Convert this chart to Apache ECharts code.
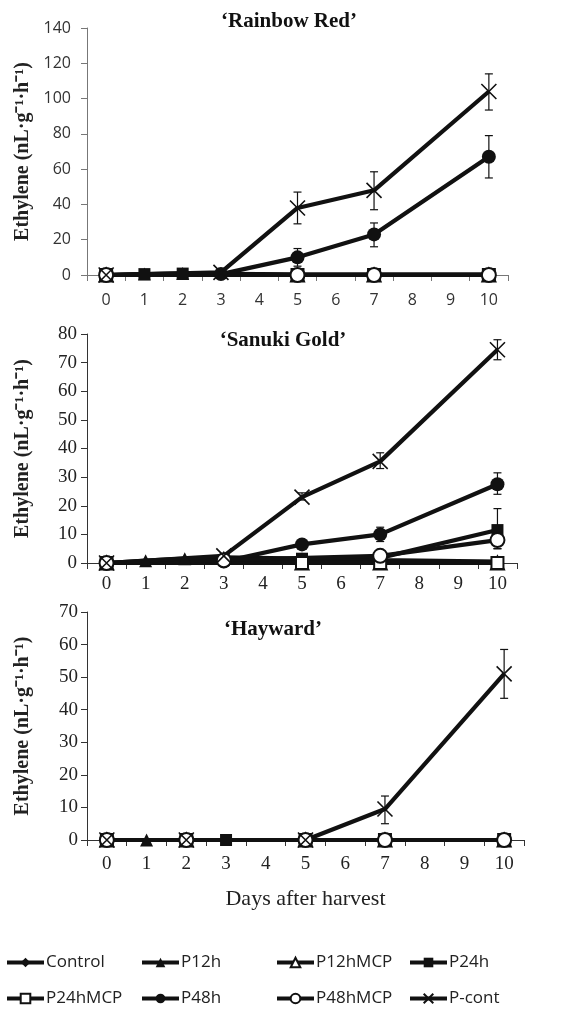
<!DOCTYPE html>
<html><head><meta charset="utf-8">
<script src="https://cdn.jsdelivr.net/npm/echarts@6/dist/echarts.min.js"></script>
<style>html,body{margin:0;padding:0;background:#fff}#c{width:568px;height:1009px}</style>
</head><body><div id="c"></div>
<script>
const days = ['0','1','2','3','4','5','6','7','8','9','10'];
const seriesNames = ['Control','P12h','P12hMCP','P24h','P24hMCP','P48h','P48hMCP','P-cont'];
const panelTitles = ['\u2018Rainbow Red\u2019','\u2018Sanuki Gold\u2019','\u2018Hayward\u2019'];
const yMax = [140, 80, 70];
const yStep = [20, 10, 10];

// 'Rainbow Red'
const control_rr  = [0,null,null,null,null,0,null,0,null,null,0];
const p12h_rr     = [0,0.5,0.8,null,null,0,null,0,null,null,0];
const p12hmcp_rr  = [0,null,null,null,null,0,null,0,null,null,0];
const p24h_rr     = [0,0.5,0.8,null,null,0.3,null,0.3,null,null,0.3];
const p24hmcp_rr  = [0,null,null,null,null,0,null,0,null,null,0];
const p48h_rr     = [0,null,null,0.5,null,10,null,23,null,null,67];
const p48hmcp_rr  = [0,null,null,null,null,0,null,0,null,null,0];
const pcont_rr    = [0,null,null,1.5,null,38,null,48,null,null,104];
const err_rr = [[5,29,47],[7,37,58.5],[10,93.5,114],[5,5,15],[7,16,29.5],[10,55,79]];

// 'Sanuki Gold'
const control_sg  = [0,null,null,0.5,null,0.5,null,0.5,null,null,0.3];
const p12h_sg     = [0,0.8,1.5,2,null,1.5,null,1,null,null,0.5];
const p12hmcp_sg  = [0,null,null,null,null,0,null,0,null,null,0];
const p24h_sg     = [0,null,null,1,null,1.5,null,1.8,null,null,11.5];
const p24hmcp_sg  = [0,null,null,null,null,0,null,0,null,null,0];
const p48h_sg     = [0,null,null,0.5,null,6.5,null,10,null,null,27.5];
const p48hmcp_sg  = [0,null,null,1,null,null,null,2.5,null,null,8];
const pcont_sg    = [0,null,null,2.5,null,23,null,35.5,null,null,74.5];
const err_sg = [[5,22,24.5],[7,33,38.5],[10,71,78],[7,7.5,12.5],[10,24,31.5],[10,5,19],[10,5,10]];

// 'Hayward'
const control_h   = [0,null,0,null,null,0,null,0,null,null,0];
const p12h_h      = [0,0,null,null,null,0,null,0,null,null,0];
const p12hmcp_h   = [0,null,0,null,null,0,null,0,null,null,0];
const p24h_h      = [0,null,null,0,null,0,null,0,null,null,0];
const p24hmcp_h   = [0,null,0,null,null,0,null,0,null,null,0];
const p48h_h      = [0,null,null,null,null,0,null,0,null,null,0];
const p48hmcp_h   = [0,null,0,null,null,0,null,0,null,null,0];
const pcont_h     = [0,null,0,null,null,0,null,9.5,null,null,51];
const err_h = [[7,5,13.5],[10,43.5,58.5]];

const panelData = [
  [control_rr,p12h_rr,p12hmcp_rr,p24h_rr,p24hmcp_rr,p48h_rr,p48hmcp_rr,pcont_rr],
  [control_sg,p12h_sg,p12hmcp_sg,p24h_sg,p24hmcp_sg,p48h_sg,p48hmcp_sg,pcont_sg],
  [control_h,p12h_h,p12hmcp_h,p24h_h,p24hmcp_h,p48h_h,p48hmcp_h,pcont_h]
];
const panelErr = [err_rr, err_sg, err_h];

const symbols = ['diamond','triangle','emptyTriangle','rect','emptyRect','circle','emptyCircle','path://M0,0L10,10M10,0L0,10'];
const symSizes = [13,13,13,12,12,14,14,15];

const SERIF = '"Liberation Serif","Times New Roman",serif';
const SANS = '"Open Sans","Liberation Sans",sans-serif';

const grids = [
  {left:87, right:60, top:28, height:247},
  {left:87, right:51, top:334, height:229},
  {left:87, right:44, top:612, height:228}
];
const labelFonts = [
  {fontFamily:SANS, fontSize:16, color:'#333'},
  {fontFamily:SERIF, fontSize:19, color:'#222'},
  {fontFamily:SERIF, fontSize:19, color:'#222'}
];
const axisColors = ['#777','#333','#333'];
const yMargins = [16,10,9];
const xMargins = [17,12,15];
const titlePos = [[289,11],[283,330],[273,619]];

const xAxes = [], yAxes = [], series = [], titles = [];
for (let p = 0; p < 3; p++) {
  xAxes.push({
    type:'category', gridIndex:p, data:days, boundaryGap:true,
    axisLine:{lineStyle:{color:axisColors[p], width:1}},
    axisTick:{show:true, length:6, lineStyle:{color:axisColors[p]}},
    axisLabel:Object.assign({margin:xMargins[p], interval:0}, labelFonts[p]),
    name: p === 2 ? 'Days after harvest' : '',
    nameLocation:'middle', nameGap:48,
    nameTextStyle:{fontFamily:SERIF, fontSize:22, color:'#222'}
  });
  yAxes.push({
    type:'value', gridIndex:p, min:0, max:yMax[p], interval:yStep[p],
    axisLine:{show:true, lineStyle:{color:axisColors[p], width:1}},
    axisTick:{show:true, length:6, lineStyle:{color:axisColors[p]}},
    splitLine:{show:false},
    axisLabel:Object.assign({margin:yMargins[p]}, labelFonts[p]),
    name:'Ethylene (nL\u00b7g\u207b\u00b9\u00b7h\u207b\u00b9)',
    nameLocation:'middle', nameGap:54, nameRotate:90,
    nameTextStyle:{fontFamily:SERIF, fontSize:20, fontWeight:'bold', color:'#222'}
  });
  titles.push({
    text:panelTitles[p], left:titlePos[p][0], top:titlePos[p][1], textAlign:'center',
    padding:0,
    textStyle:{fontFamily:SERIF, fontSize:21, fontWeight:'bold', color:'#111'}
  });
  for (let s = 0; s < 8; s++) {
    series.push({
      type:'line', name:seriesNames[s], xAxisIndex:p, yAxisIndex:p,
      data:panelData[p][s], connectNulls:true,
      symbol:symbols[s], symbolSize:symSizes[s], showAllSymbol:true,
      lineStyle:{color:'#111', width:4.2},
      itemStyle:{color:'#111', borderColor:'#111', borderWidth: (s===2||s===4||s===6||s===7)?1.6:0},
      emphasis:{disabled:true}, animation:false
    });
  }
  series.push({
    type:'custom', xAxisIndex:p, yAxisIndex:p, data:panelErr[p], z:1, silent:true,
    renderItem:function(params, api){
      const x = api.value(0);
      const lo = api.coord([x, api.value(1)]);
      const hi = api.coord([x, api.value(2)]);
      const w = 4;
      const st = {stroke:'#111', lineWidth:1.2};
      return {type:'group', children:[
        {type:'line', shape:{x1:lo[0],y1:lo[1],x2:hi[0],y2:hi[1]}, style:st},
        {type:'line', shape:{x1:lo[0]-w,y1:lo[1],x2:lo[0]+w,y2:lo[1]}, style:st},
        {type:'line', shape:{x1:hi[0]-w,y1:hi[1],x2:hi[0]+w,y2:hi[1]}, style:st}
      ]};
    },
    animation:false
  });
}

const legendCols = [5,140,275,408];
const legendRows = [954,990];
const legends = seriesNames.map((n,i) => ({
  data:[n], left:legendCols[i%4], top:legendRows[Math.floor(i/4)], padding:0,
  itemWidth:37, itemHeight:12, itemGap:0,
  lineStyle:{width:4, color:'#111'},
  textStyle:{fontFamily:SANS, fontSize:17, color:'#222', padding:[0,0,0,-3]}
}));

const chart = echarts.init(document.getElementById('c'), null, {renderer:'canvas'});
chart.setOption({
  animation:false,
  backgroundColor:'#fff',
  title:titles,
  grid:grids,
  xAxis:xAxes,
  yAxis:yAxes,
  legend:legends,
  series:series
});
</script>
</body></html>
